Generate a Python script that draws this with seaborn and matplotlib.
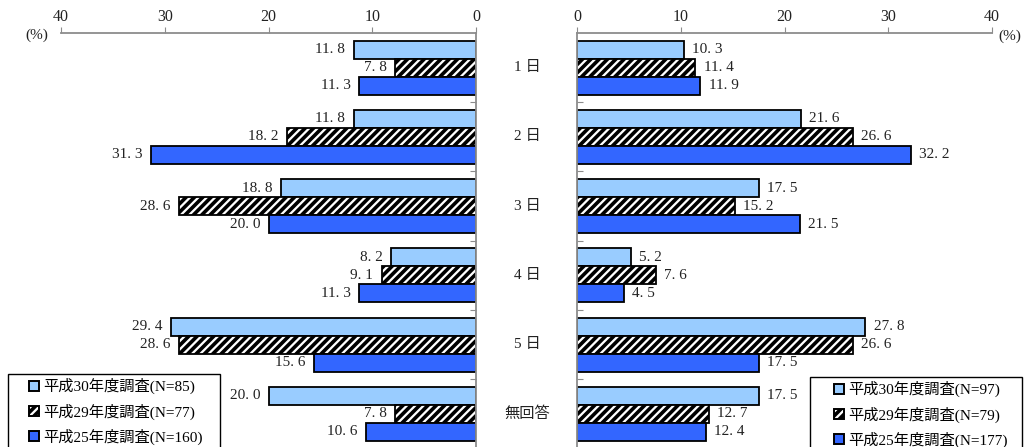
import numpy as np
import pandas as pd
import matplotlib
matplotlib.use("Agg")
import matplotlib.pyplot as plt
import matplotlib.patches as mpatches
import matplotlib.transforms as mtransforms
import seaborn as sns

days = ["1 日", "2 日", "3 日", "4 日", "5 日", "無回答"]
surveys = ["平成30年度調査", "平成29年度調査", "平成25年度調査"]

left_n = [85, 77, 160]
left_h30 = [11.8, 11.8, 18.8, 8.2, 29.4, 20.0]
left_h29 = [7.8, 18.2, 28.6, 9.1, 28.6, 7.8]
left_h25 = [11.3, 31.3, 20.0, 11.3, 15.6, 10.6]

right_n = [97, 79, 177]
right_h30 = [10.3, 21.6, 17.5, 5.2, 27.8, 17.5]
right_h29 = [11.4, 26.6, 15.2, 7.6, 26.6, 12.7]
right_h25 = [11.9, 32.2, 21.5, 4.5, 17.5, 12.4]

x_ticks = [0, 10, 20, 30, 40]

colors = ["#99ccff", "#ffffff", "#3366ff"]
hatches = ["", "////", ""]
grey = "#8c8c8c"
txt = "#222222"

plt.rcParams["font.family"] = ["Liberation Serif", "Noto Sans CJK JP"]
plt.rcParams["hatch.linewidth"] = 2.6


def make_df(h30, h29, h25):
    return pd.DataFrame({
        "day": days * 3,
        "survey": np.repeat(surveys, len(days)),
        "value": h30 + h29 + h25,
    })


def draw_panel(ax, df, ns, side):
    sns.barplot(data=df, x="value", y="day", hue="survey", order=days,
                hue_order=surveys, palette=colors, orient="h", width=0.78,
                edgecolor="black", linewidth=1.3, saturation=1, ax=ax,
                legend=False)
    off = -6 if side == "left" else 6
    ha = "right" if side == "left" else "left"
    for i, cont in enumerate(ax.containers):
        for p, v in zip(cont, cont.datavalues):
            p.set_hatch(hatches[i])
            yc = p.get_y() + p.get_height() / 2
            ax.annotate(f"{v:.1f}".replace(".", ". "), xy=(v, yc),
                        xytext=(off, 0), textcoords="offset points",
                        ha=ha, va="center", fontsize=11, color=txt)

    ax.set_ylim(len(days) - 0.5, -0.5)
    if side == "left":
        ax.set_xlim(40, 0)
    else:
        ax.set_xlim(0, 40)
    ax.set_xticks(x_ticks)
    ax.xaxis.tick_top()
    ax.tick_params(axis="x", direction="out", length=4, color=grey,
                   labelsize=11.5, labelcolor=txt, pad=2)
    ax.set_xlabel("")
    ax.set_ylabel("")

    # group separator ticks on the zero line
    ax.set_yticks([i + 0.5 for i in range(len(days) - 1)])
    ax.set_yticklabels([])
    if side == "left":
        ax.yaxis.tick_right()
    else:
        ax.yaxis.tick_left()
    ax.tick_params(axis="y", direction="in", length=4, color=grey)

    for s in ["bottom", "left", "right"]:
        ax.spines[s].set_visible(False)
    ax.spines["top"].set_color(grey)
    ax.spines["top"].set_linewidth(1.3)
    zero = "right" if side == "left" else "left"
    ax.spines[zero].set_visible(True)
    ax.spines[zero].set_color(grey)
    ax.spines[zero].set_linewidth(1.3)

    handles = [mpatches.Patch(facecolor=colors[i], edgecolor="black",
                              hatch=hatches[i], linewidth=1.4)
               for i in range(3)]
    labels = [f"{s}(N={n})" for s, n in zip(surveys, ns)]
    return handles, labels


fig = plt.figure(figsize=(10.24, 4.47), dpi=100)
ax_l = fig.add_axes([61 / 1024, -0.003, 415 / 1024, 0.929])
ax_r = fig.add_axes([577 / 1024, -0.003, 415 / 1024, 0.929])

hl, ll = draw_panel(ax_l, make_df(left_h30, left_h29, left_h25), left_n, "left")
hr, lr = draw_panel(ax_r, make_df(right_h30, right_h29, right_h25), right_n, "right")

trans = mtransforms.blended_transform_factory(fig.transFigure, ax_l.transData)
for i, d in enumerate(days):
    ax_l.text(527 / 1024, i, d, transform=trans, ha="center", va="center",
              fontsize=11, color=txt, clip_on=False)

fig.text(37 / 1024, 1 - 35 / 447, "(%)", ha="center", va="center",
         fontsize=11, color=txt)
fig.text(1010 / 1024, 1 - 36 / 447, "(%)", ha="center", va="center",
         fontsize=11, color=txt)

# legends: frame drawn separately so it can run past the bottom edge
for handles, labels, bx, bw, by, hx in [(hl, ll, 8, 212, 374, 29),
                                        (hr, lr, 810, 212, 377, 834)]:
    leg = fig.legend(handles, labels, loc="upper left",
                     bbox_to_anchor=(hx / 1024, 1 - (by + 4) / 447),
                     frameon=False, fontsize=11, handlelength=0.65,
                     handleheight=0.65, handletextpad=0.25, labelspacing=0.6,
                     borderpad=0, borderaxespad=0)
    leg.set_zorder(6)
    frame = mpatches.Rectangle((bx / 1024, -0.1), bw / 1024, 0.1 + 1 - by / 447,
                               transform=fig.transFigure, facecolor="white",
                               edgecolor="black", linewidth=1.0, zorder=5)
    fig.add_artist(frame)

fig.savefig("out.png", dpi=100)
